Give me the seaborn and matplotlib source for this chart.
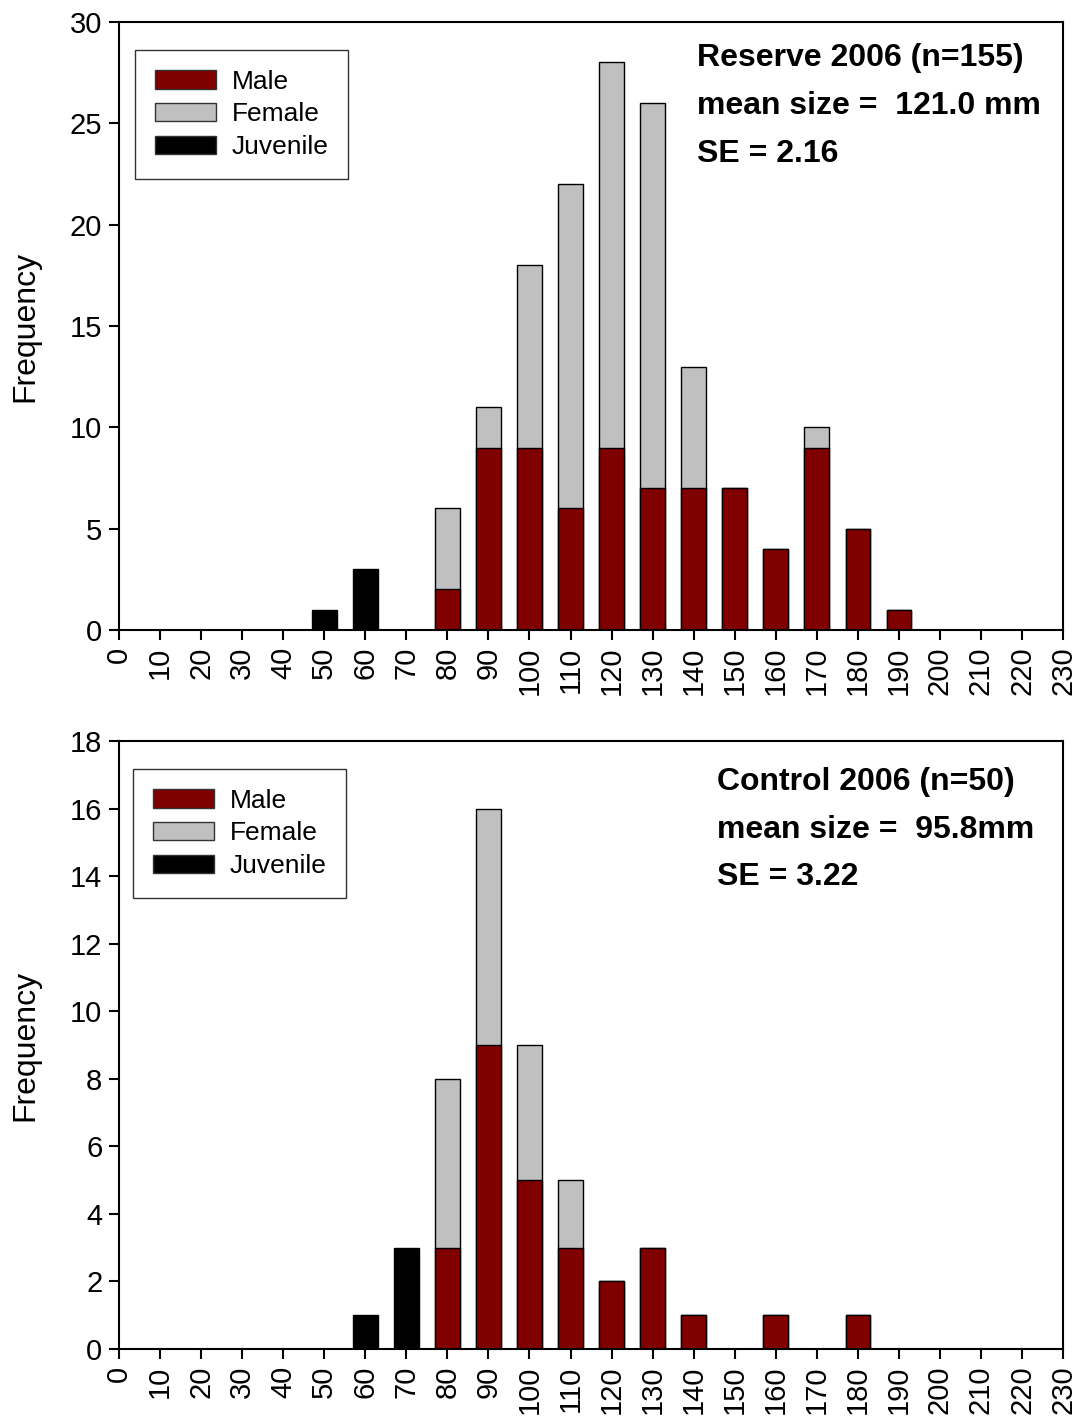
import matplotlib
matplotlib.use("Agg")
import matplotlib.pyplot as plt
from matplotlib.patches import Patch
import numpy as np
import pandas as pd
import seaborn as sns

# Size classes (mm)
size_bins = [50, 60, 70, 80, 90, 100, 110, 120, 130, 140, 150, 160, 170, 180, 190]

# Reserve 2006 counts per size class
reserve_male = [0, 0, 0, 2, 9, 9, 6, 9, 7, 7, 7, 4, 9, 5, 1]
reserve_female = [0, 0, 0, 4, 2, 9, 16, 19, 19, 6, 0, 0, 1, 0, 0]
reserve_juvenile = [1, 3, 0, 0, 0, 0, 0, 0, 0, 0, 0, 0, 0, 0, 0]

# Control 2006 counts per size class
control_male = [0, 0, 0, 3, 9, 5, 3, 2, 3, 1, 0, 1, 0, 1, 0]
control_female = [0, 0, 0, 5, 7, 4, 2, 0, 0, 0, 0, 0, 0, 0, 0]
control_juvenile = [0, 1, 3, 0, 0, 0, 0, 0, 0, 0, 0, 0, 0, 0, 0]

x_ticks = list(range(0, 231, 10))
reserve_yticks = [0, 5, 10, 15, 20, 25, 30]
control_yticks = [0, 2, 4, 6, 8, 10, 12, 14, 16, 18]

reserve_text = ["Reserve 2006 (n=155)", "mean size =  121.0 mm", "SE = 2.16"]
control_text = ["Control 2006 (n=50)", "mean size =  95.8mm", "SE = 3.22"]

MALE = "#800000"
FEMALE = "#C0C0C0"
JUV = "#000000"

sns.set_style("ticks")
plt.rcParams["font.family"] = ["Liberation Sans", "DejaVu Sans"]
plt.rcParams["text.color"] = "black"
plt.rcParams["axes.labelcolor"] = "black"
plt.rcParams["axes.linewidth"] = 1.5
plt.rcParams["xtick.major.width"] = 1.5
plt.rcParams["ytick.major.width"] = 1.5
plt.rcParams["xtick.major.size"] = 7
plt.rcParams["ytick.major.size"] = 7
plt.rcParams["xtick.color"] = "black"
plt.rcParams["ytick.color"] = "black"
plt.rcParams["axes.edgecolor"] = "black"

fig = plt.figure(figsize=(10.82, 14.17), dpi=100)
ax_top = fig.add_axes([0.110, 0.5554, 0.8725, 0.4291])
ax_bot = fig.add_axes([0.110, 0.0480, 0.8725, 0.4291])


def stacked_panel(ax, male, female, juv, yticks, lines, text_x, text_ys, leg_anchor):
    df = pd.DataFrame({
        "size": size_bins,
        "male": male,
        "female": female,
        "juv": juv,
    })
    df["total"] = df["male"] + df["female"]
    common = dict(native_scale=True, width=0.6, edgecolor="black",
                  linewidth=1.0, errorbar=None, ax=ax)
    tot = df[df["total"] > 0]
    sns.barplot(data=tot, x="size", y="total", color=FEMALE, saturation=1, **common)
    m = df[df["male"] > 0]
    sns.barplot(data=m, x="size", y="male", color=MALE, saturation=1, **common)
    j = df[df["juv"] > 0]
    sns.barplot(data=j, x="size", y="juv", color=JUV, saturation=1, **common)

    ax.set_xlim(0, 230)
    ax.set_ylim(yticks[0], yticks[-1])
    ax.set_xticks(x_ticks)
    ax.set_xticklabels([str(t) for t in x_ticks], rotation=90, fontsize=21)
    ax.set_yticks(yticks)
    ax.set_yticklabels([str(t) for t in yticks], fontsize=21)
    ax.tick_params(axis="both", pad=5)
    ax.set_xlabel("")
    ax.set_ylabel("Frequency", fontsize=23)
    ax.yaxis.set_label_coords(-0.0837, 0.5)
    for s in ax.spines.values():
        s.set_visible(True)
        s.set_linewidth(1.5)

    for line, ty in zip(lines, text_ys):
        ax.text(text_x, ty, line, transform=ax.transAxes, fontsize=23,
                fontweight="bold", va="center", ha="left")

    handles = [Patch(facecolor=MALE, edgecolor="#333333", label="Male"),
               Patch(facecolor=FEMALE, edgecolor="#333333", label="Female"),
               Patch(facecolor=JUV, edgecolor="#333333", label="Juvenile")]
    leg = ax.legend(handles=handles, loc="upper left", bbox_to_anchor=leg_anchor,
                    fontsize=19, frameon=True, fancybox=False, handlelength=2.3,
                    handleheight=0.7, handletextpad=0.6, labelspacing=0.33,
                    borderpad=0.75, borderaxespad=0)
    leg.get_frame().set_edgecolor("black")
    leg.get_frame().set_linewidth(1.0)


stacked_panel(ax_top, reserve_male, reserve_female, reserve_juvenile, reserve_yticks,
              reserve_text, 0.612, [0.941, 0.862, 0.783], (0.017, 0.954))
stacked_panel(ax_bot, control_male, control_female, control_juvenile, control_yticks,
              control_text, 0.633, [0.9326, 0.8536, 0.776], (0.015, 0.954))

fig.savefig("out.png", dpi=100)
